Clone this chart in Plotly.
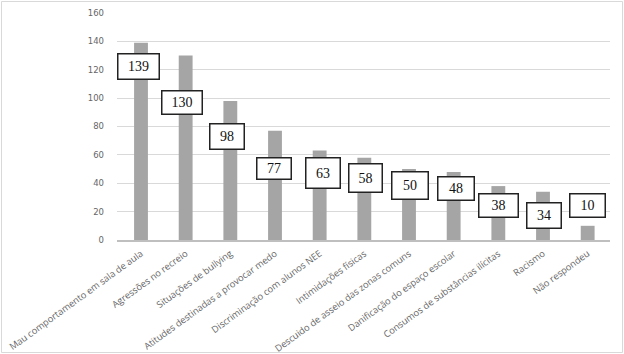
import plotly.graph_objects as go

categories = [
    "Mau comportamento em sala de aula",
    "Agressões no recreio",
    "Situações de bullying",
    "Atitudes destinadas a provocar medo",
    "Discriminação com alunos NEE",
    "Intimidações físicas",
    "Descuido de asseio das zonas comuns",
    "Danificação do espaço escolar",
    "Consumos de substâncias ilícitas",
    "Racismo",
    "Não respondeu",
]
values = [139, 130, 98, 77, 63, 58, 50, 48, 38, 34, 10]
y_ticks = [0, 20, 40, 60, 80, 100, 120, 140, 160]

# label box styling (pixel offsets / sizes; negative dy = below bar top)
label_dx = [-2.5, -4, -3, -1, 3, 1.5, 1, 2, 0.5, 1, -0.5]
label_dy = [-24, -47, -36, -37.5, -22, -20, -16.5, -16.5, -19.5, -24, 20]
label_w = [43, 42, 36, 36, 36, 35, 38, 38, 41, 36, 37]
label_h = [27, 25, 27, 23, 32, 30, 29, 25, 25, 27, 25]

W, H = 624, 354
ML, MR, MT, MB = 117, 14, 13, 114

fig = go.Figure()
fig.add_trace(go.Bar(
    x=categories, y=values,
    marker=dict(color="#a5a5a5", line=dict(width=0)),
    hoverinfo="x+y",
))

bw = 1.5
for c, v, dx, dy, w, h in zip(categories, values, label_dx, label_dy, label_w, label_h):
    fig.add_annotation(
        x=c, y=v, xref="x", yref="y",
        text=str(v), showarrow=False,
        xshift=dx, yshift=dy,
        font=dict(family="Liberation Serif, Times New Roman, serif", size=14, color="#111111"),
        bgcolor="white", bordercolor="#222222", borderwidth=bw, borderpad=0,
        width=w - 2 * bw, height=h - 2 * bw,
        xanchor="center", yanchor="middle", align="center", valign="middle",
    )

pw = W - ML - MR
ph = H - MT - MB
fig.add_shape(
    type="rect", xref="paper", yref="paper",
    x0=(1.5 - ML) / pw, x1=(622.5 - ML) / pw,
    y0=-(352.5 - MT - ph) / ph, y1=1 + (MT - 1.5) / ph,
    line=dict(color="#d9d9d9", width=1), fillcolor="rgba(0,0,0,0)", layer="below",
)

fig.update_layout(
    width=W, height=H,
    margin=dict(l=ML, r=MR, t=MT, b=MB, pad=0, autoexpand=False),
    paper_bgcolor="white", plot_bgcolor="white",
    bargap=0.69,
    showlegend=False,
    font=dict(family="Open Sans, Liberation Sans, sans-serif", color="#595959"),
    xaxis=dict(
        type="category", tickangle=-36, automargin=False,
        tickfont=dict(size=9.3, color="#666666"),
        showgrid=False, showline=True, linecolor="#bfbfbf", linewidth=1.5,
        ticks="", zeroline=False, ticklabelstandoff=3,
    ),
    yaxis=dict(
        range=[0, 160], tickvals=y_ticks, automargin=False,
        tickfont=dict(family="DejaVu Sans, sans-serif", size=8.5, color="#666666"),
        showgrid=True, gridcolor="#d9d9d9", gridwidth=1,
        zeroline=False, showline=False, ticks="",
        ticklabelstandoff=12,
    ),
)

fig.write_html("out.html")
